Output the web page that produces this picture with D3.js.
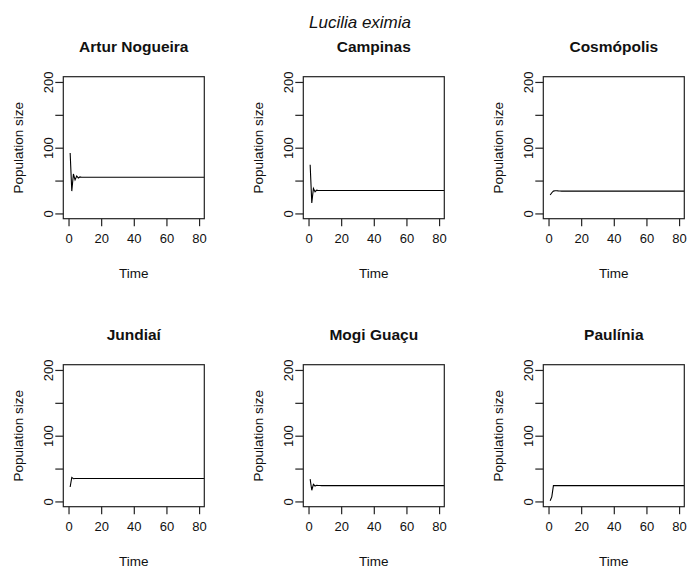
<!DOCTYPE html>
<html>
<head>
<meta charset="utf-8">
<script src="https://cdn.jsdelivr.net/npm/d3@7"></script>
<style>
  body { margin: 0; background: #fff; }
  text { font-family: "Liberation Sans", Arial, sans-serif; fill: #111; }
  .domain { display: none; }
</style>
</head>
<body>
<div id="chart"></div>
<script>
// species shown in the figure
var species = "Lucilia eximia";

// one panel per site
var sites = ["Artur Nogueira", "Campinas", "Cosmópolis", "Jundiaí", "Mogi Guaçu", "Paulínia"];

// time steps (the last point carries the equilibrium past the axis end)
var time = [1, 2, 3, 4, 5, 6, 7, 8, 9, 10, 100];

// population size
var arturNogueira = [92, 34, 60, 51, 57, 54, 55.5, 55, 55, 55, 55];
var campinas      = [74, 16, 38, 33, 35.5, 34.8, 35, 35, 35, 35, 35];
var cosmopolis    = [28, 31.5, 34, 34.5, 34.5, 34.3, 34.2, 34, 34, 34, 34];
var jundiai       = [22, 36.5, 34.5, 35, 35, 35, 35, 35, 35, 35, 35];
var mogiGuacu     = [34, 17, 26, 23.5, 24.5, 24.2, 24.3, 24, 24, 24, 24];
var paulinia      = [1, 7, 24, 24, 24, 24, 24, 24, 24, 24, 24];

var series = [arturNogueira, campinas, cosmopolis, jundiai, mogiGuacu, paulinia];

// axis ticks
var xTicks = [0, 20, 40, 60, 80];
var yTicks = [0, 50, 100, 150, 200];

var width = 696, height = 572;
var box_w = 141, box_h = 142;
var col_x = [63.3, 303.3, 543.3];
var row_y = [76.7, 364.7];

var svg = d3.select("#chart").append("svg")
    .attr("width", width)
    .attr("height", height);

svg.append("defs").append("clipPath")
    .attr("id", "clip")
  .append("rect")
    .attr("width", box_w)
    .attr("height", box_h);

// overall title
svg.append("text")
    .attr("x", 360)
    .attr("y", 28)
    .attr("text-anchor", "middle")
    .attr("font-size", "17px")
    .attr("font-style", "italic")
    .text(species);

// R style 4% padding on both scales
var x = d3.scaleLinear().domain([-3.2, 83.2]).range([0, box_w]);
var y = d3.scaleLinear().domain([-8, 208]).range([box_h, 0]);

var line = d3.line()
    .x(function(d) { return x(d[0]); })
    .y(function(d) { return y(d[1]); });

sites.forEach(function(site, i){
  var g = svg.append("g")
      .attr("transform", "translate(" + col_x[i % 3] + "," + row_y[Math.floor(i / 3)] + ")");

  // panel title
  g.append("text")
      .attr("x", box_w / 2)
      .attr("y", -25)
      .attr("text-anchor", "middle")
      .attr("font-size", "15.5px")
      .attr("font-weight", "bold")
      .text(site);

  // data line
  var pts = time.map(function(t, j){ return [t, series[i][j]]; });
  g.append("path")
      .attr("d", line(pts))
      .attr("clip-path", "url(#clip)")
      .attr("fill", "none")
      .attr("stroke", "#000")
      .attr("stroke-width", 1.1);

  // box
  g.append("rect")
      .attr("width", box_w)
      .attr("height", box_h)
      .attr("fill", "none")
      .attr("stroke", "#222")
      .attr("stroke-width", 1.2);

  // x axis
  var xa = g.append("g")
      .attr("transform", "translate(0," + box_h + ")")
      .call(d3.axisBottom(x).tickValues(xTicks).tickSize(7.5).tickPadding(8));
  xa.selectAll("line").attr("stroke", "#222").attr("stroke-width", 1.2);
  xa.selectAll("text").attr("font-size", "13px").attr("fill", "#111");

  // y axis, labels rotated like R
  var ya = g.append("g")
      .call(d3.axisLeft(y).tickValues(yTicks).tickSize(8)
        .tickFormat(function(d){ return d % 100 == 0 ? d : ""; }));
  ya.selectAll("line").attr("stroke", "#222").attr("stroke-width", 1.2);
  ya.selectAll("text")
      .attr("font-size", "13px")
      .attr("fill", "#111")
      .attr("transform", "rotate(-90)")
      .attr("x", 0)
      .attr("y", -10)
      .attr("dy", 0)
      .attr("text-anchor", "middle");

  // axis titles
  g.append("text")
      .attr("x", box_w / 2)
      .attr("y", box_h + 59.5)
      .attr("text-anchor", "middle")
      .attr("font-size", "13.5px")
      .text("Time");

  g.append("text")
      .attr("transform", "translate(-40," + (box_h / 2) + ") rotate(-90)")
      .attr("text-anchor", "middle")
      .attr("font-size", "13.5px")
      .text("Population size");
});
</script>
</body>
</html>
